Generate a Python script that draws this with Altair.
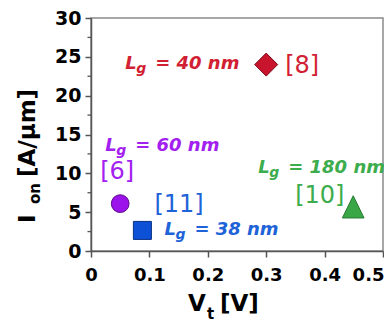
import altair as alt
import pandas as pd

# ---- data ----
refs = ["[8]", "[6]", "[11]", "[10]"]
vt = [0.30, 0.05, 0.088, 0.449]
ion = [24.0, 6.1, 2.65, 5.65]
lg = ["40 nm", "60 nm", "38 nm", "180 nm"]
x_ticks = [0, 0.1, 0.2, 0.3, 0.4, 0.5]
y_ticks = [0, 5, 10, 15, 20, 25, 30]
y_minor = [2.5, 7.5, 12.5, 17.5, 22.5, 27.5]
x_title = ["V", "t", "[V]"]
y_title = ["I", "on", "[A/μm]"]

df = pd.DataFrame({"vt": vt, "ion": ion, "ref": refs, "lg": lg})
minor_df = pd.DataFrame({"ion": y_minor})
one = pd.DataFrame({"k": [0]})

# ---- styles ----
text_colors = ["#d11f33", "#a321f0", "#1e63d8", "#3cac4c"]
fills = ["#c8142c", "#9c12ea", "#0d52d6", "#3aa746"]
strokes = ["#7a0c1a", "#5c0a8a", "#0a2f80", "#257a30"]
shapes = ["diamond", "circle", "square", "M0,-1.05L1,1L-1,1Z"]
sizes = [529, 314, 324, 470]
# (L dx, L dy, ref dx, ref dy) pixel offsets of annotations from their point
offsets = [(-141, 4, 19, 1), (-15, -53, -20, -32), (22, 5, 12, -25), (-95, -34, -58, -11)]

FONT = "DejaVu Sans"

xscale = alt.Scale(domain=[0, 0.5], nice=False, zero=False)
yscale = alt.Scale(domain=[0, 30], nice=False)

xaxis = alt.Axis(values=x_ticks, format="~g", title=None, grid=False, labelFlush=False,
                 labelAlign={"condition": {"test": "datum.value >= 0.45", "value": "right"},
                             "value": "center"},
                 labelOffset={"condition": {"test": "datum.value >= 0.45", "value": 1},
                              "value": 0})
yaxis = alt.Axis(values=y_ticks, title=None, grid=False, labelFlush=False)


def X(field="vt"):
    return alt.X(f"{field}:Q", scale=xscale, axis=xaxis)


def Y(field="ion"):
    return alt.Y(f"{field}:Q", scale=yscale, axis=yaxis)


layers = []

# minor ticks on y axis
layers.append(
    alt.Chart(minor_df).mark_rule(color="#555", strokeWidth=1.3).encode(
        x=alt.value(-3.5), x2=alt.value(0), y=Y("ion")
    )
)

for i, r in enumerate(refs):
    base = alt.Chart(df).transform_filter(alt.datum.ref == r)
    ldx, ldy, rdx, rdy = offsets[i]
    col = text_colors[i]
    layers.append(
        base.mark_point(shape=shapes[i], size=sizes[i], filled=True, fill=fills[i],
                        stroke=strokes[i], strokeWidth=1, opacity=1).encode(x=X(), y=Y())
    )
    layers.append(
        base.mark_text(align="left", baseline="middle", dx=rdx, dy=rdy, font=FONT,
                       fontSize=24, color=col).encode(x=X(), y=Y(), text="ref:N")
    )
    layers.append(
        base.mark_text(align="left", baseline="alphabetic", dx=ldx, dy=ldy, font=FONT,
                       fontSize=18, fontStyle="italic", fontWeight="bold", color=col,
                       text="L").encode(x=X(), y=Y())
    )
    layers.append(
        base.mark_text(align="left", baseline="alphabetic", dx=ldx + 11, dy=ldy + 4, font=FONT,
                       fontSize=14, fontStyle="italic", fontWeight="bold", color=col,
                       text="g").encode(x=X(), y=Y())
    )
    layers.append(
        base.transform_calculate(t="'= ' + datum.lg").mark_text(
            align="left", baseline="alphabetic", dx=ldx + 30, dy=ldy, font=FONT,
            fontSize=18, fontStyle="italic", fontWeight="bold", color=col
        ).encode(x=X(), y=Y(), text="t:N")
    )

# axis titles with real subscripts
tstyle = dict(font=FONT, fontWeight="bold", color="#000", baseline="alphabetic", align="left")
layers += [
    alt.Chart(one).mark_text(text=x_title[0], fontSize=23, **tstyle).encode(
        x=alt.value(97), y=alt.value(293)),
    alt.Chart(one).mark_text(text=x_title[1], fontSize=15, **tstyle).encode(
        x=alt.value(116), y=alt.value(301)),
    alt.Chart(one).mark_text(text=x_title[2], fontSize=23, **tstyle).encode(
        x=alt.value(129), y=alt.value(293)),
    alt.Chart(one).mark_text(text=y_title[0], fontSize=23, angle=270, **tstyle).encode(
        x=alt.value(-56), y=alt.value(205)),
    alt.Chart(one).mark_text(text=y_title[1], fontSize=15, angle=270, **tstyle).encode(
        x=alt.value(-51), y=alt.value(186)),
    alt.Chart(one).mark_text(text=y_title[2], fontSize=23, angle=270, **tstyle).encode(
        x=alt.value(-56), y=alt.value(159)),
]

chart = alt.layer(*layers).properties(
    width=292, height=233,
    autosize=alt.AutoSizeParams(type="none"),
    padding={"left": 83, "top": 10, "right": 1, "bottom": 72},
).configure_view(
    stroke="#8a8a8a", strokeWidth=1.5
).configure_axis(
    domainColor="#555", domainWidth=1.5, tickColor="#555", tickWidth=1.5, tickSize=6,
    labelFont=FONT, labelFontWeight="bold", labelColor="#000",
).configure_axisX(labelPadding=9, labelFontSize=18).configure_axisY(labelPadding=4, labelFontSize=19)

chart.save("out.html", embed_options={"renderer": "svg", "actions": False})
